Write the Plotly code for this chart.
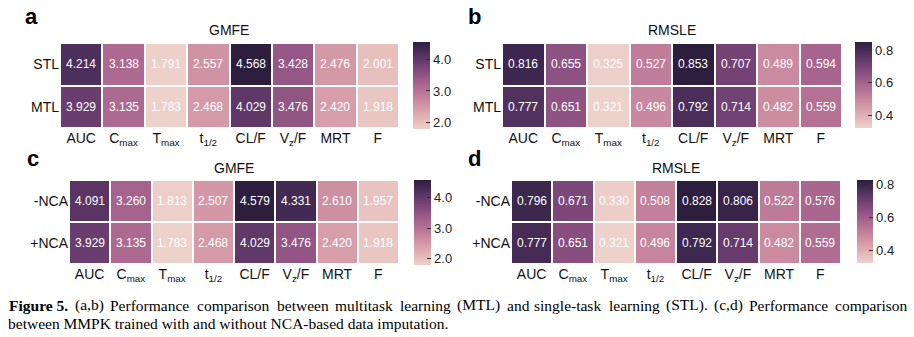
import numpy as np
import plotly.graph_objects as go

# ---- data -------------------------------------------------------------
params = ["AUC", "C<sub>max</sub>", "T<sub>max</sub>", "t<sub>1/2</sub>",
          "CL/F", "V<sub>z</sub>/F", "MRT", "F"]
rows_ab = ["STL", "MTL"]
rows_cd = ["-NCA", "+NCA"]

gmfe_stl = [4.214, 3.138, 1.791, 2.557, 4.568, 3.428, 2.476, 2.001]
gmfe_mtl = [3.929, 3.135, 1.783, 2.468, 4.029, 3.476, 2.420, 1.918]
rmsle_stl = [0.816, 0.655, 0.325, 0.527, 0.853, 0.707, 0.489, 0.594]
rmsle_mtl = [0.777, 0.651, 0.321, 0.496, 0.792, 0.714, 0.482, 0.559]

gmfe_no_nca = [4.091, 3.260, 1.813, 2.507, 4.579, 4.331, 2.610, 1.957]
gmfe_nca = [3.929, 3.135, 1.783, 2.468, 4.029, 3.476, 2.420, 1.918]
rmsle_no_nca = [0.796, 0.671, 0.330, 0.508, 0.828, 0.806, 0.522, 0.576]
rmsle_nca = [0.777, 0.651, 0.321, 0.496, 0.792, 0.714, 0.482, 0.559]

gmfe_ticks = [2.0, 3.0, 4.0]
rmsle_ticks = [0.4, 0.6, 0.8]

caption_words = ["Figure 5.", "(a,b)", "Performance", "comparison", "between",
                 "multitask", "learning", "(MTL)", "and", "single-task",
                 "learning", "(STL).", "(c,d)", "Performance", "comparison"]
caption_line2 = "between MMPK trained with and without NCA-based data imputation."

W, H = 914, 337
SANS = "Liberation Sans, Arial, sans-serif"
SERIF = "Liberation Serif, Times New Roman, serif"


# ---- cubehelix colour map (light pink -> dark purple) -------------------
def cubehelix(x, start=0.0, rot=0.4, gamma=1.0, hue=0.8):
    xg = x ** gamma
    a = hue * xg * (1 - xg) / 2
    phi = 2 * np.pi * (start / 3 + rot * x)
    r = xg + a * (-0.14861 * np.cos(phi) + 1.78277 * np.sin(phi))
    g = xg + a * (-0.29227 * np.cos(phi) - 0.90649 * np.sin(phi))
    b = xg + a * (1.97294 * np.cos(phi))
    return np.clip([r, g, b], 0, 1)


colorscale = []
for s in np.linspace(0, 1, 21):
    rgb = np.round(255 * cubehelix(0.85 - 0.70 * s)).astype(int)
    colorscale.append([float(s), "rgb(%d,%d,%d)" % tuple(rgb)])


def px_x(p):
    return p / W


def px_y(p):
    return 1 - p / H


# panel geometry in pixels: box (x0, x1, y0, y1), colorbar (x, y0, y1, thickness)
panels = [
    dict(z=[gmfe_stl, gmfe_mtl], rows=rows_ab, ticks=gmfe_ticks, title="GMFE",
         box=(60, 399, 43, 128), cb=(413, 42, 129, 17), letter="a", lx=23, ly=17, ty=30),
    dict(z=[rmsle_stl, rmsle_mtl], rows=rows_ab, ticks=rmsle_ticks, title="RMSLE",
         box=(502, 842, 43, 128), cb=(855, 42, 128, 17), letter="b", lx=466, ly=17, ty=30),
    dict(z=[gmfe_no_nca, gmfe_nca], rows=rows_cd, ticks=gmfe_ticks, title="GMFE",
         box=(69, 399, 180, 264), cb=(414, 180, 265, 17), letter="c", lx=25, ly=158, ty=168),
    dict(z=[rmsle_no_nca, rmsle_nca], rows=rows_cd, ticks=rmsle_ticks, title="RMSLE",
         box=(511, 841, 180, 264), cb=(857, 180, 263, 16), letter="d", lx=466, ly=158, ty=168),
]

fig = go.Figure()
annotations = []
shapes = []
layout_axes = {}

for i, p in enumerate(panels, start=1):
    sx = "" if i == 1 else str(i)
    x0, x1, y0, y1 = p["box"]
    cbx, cby0, cby1, cbt = p["cb"]
    zmin = float(np.min(p["z"]))
    zmax = float(np.max(p["z"]))
    fig.add_trace(go.Heatmap(
        z=p["z"], x=params, y=p["rows"],
        xaxis="x" + sx, yaxis="y" + sx,
        colorscale=colorscale, zmin=zmin, zmax=zmax,
        xgap=2, ygap=2,
        texttemplate="%{z:.3f}",
        textfont=dict(color="white", size=12, family=SANS),
        hoverinfo="skip",
        colorbar=dict(
            x=px_x(cbx), xanchor="left", xref="paper",
            y=px_y(cby0), yanchor="top", yref="paper",
            len=cby1 - cby0, lenmode="pixels",
            thickness=cbt, thicknessmode="pixels",
            outlinewidth=0, xpad=0, ypad=0,
            tickvals=p["ticks"], ticktext=["%.1f" % t for t in p["ticks"]],
            ticks="inside", ticklen=4, tickwidth=1.2, tickcolor="#333",
            tickfont=dict(size=13, family=SANS, color="#222"),
        ),
    ))
    layout_axes["xaxis" + sx] = dict(
        domain=[px_x(x0), px_x(x1)], anchor="y" + sx,
        showgrid=False, zeroline=False, showline=False, ticks="",
        tickfont=dict(size=14, family=SANS, color="#111"),
        fixedrange=True,
    )
    layout_axes["yaxis" + sx] = dict(
        domain=[px_y(y1), px_y(y0)], anchor="x" + sx,
        autorange="reversed",
        showgrid=False, zeroline=False, showline=False, ticks="",
        tickfont=dict(size=14, family=SANS, color="#111"),
        fixedrange=True,
    )
    # hidden value axis spanning the colour bar, used for the left-edge tick dashes
    cb_axis = "yaxis%d" % (i + 4)
    layout_axes[cb_axis] = dict(
        domain=[px_y(cby1), px_y(cby0)], range=[zmin, zmax],
        visible=False, anchor="free", position=0, fixedrange=True,
    )
    for t in p["ticks"]:
        shapes.append(dict(
            type="line", xref="paper", yref="y%d" % (i + 4),
            x0=px_x(cbx), x1=px_x(cbx + 4), y0=t, y1=t,
            line=dict(color="#333", width=1.2),
        ))
    annotations.append(dict(
        text=p["title"], x=px_x((x0 + x1) / 2), y=px_y(p["ty"]),
        xref="paper", yref="paper", xanchor="center", yanchor="middle",
        showarrow=False, font=dict(size=14, family=SANS, color="#111"),
    ))
    annotations.append(dict(
        text="<b>%s</b>" % p["letter"], x=px_x(p["lx"]), y=px_y(p["ly"]),
        xref="paper", yref="paper", xanchor="left", yanchor="middle",
        showarrow=False, font=dict(size=22, family=SANS, color="#000"),
    ))

# ---- caption: the first line is justified word by word ------------------
# approximate Times advance widths (1/1000 em), used only to spread the words
TIMES_W = {
    "a": 444, "b": 500, "c": 444, "d": 500, "e": 444, "f": 333, "g": 500,
    "h": 500, "i": 278, "k": 500, "l": 278, "m": 778, "n": 500, "o": 500,
    "p": 500, "r": 333, "s": 389, "t": 278, "u": 500, "w": 722,
    "A": 722, "C": 667, "F": 611, "L": 611, "M": 889, "P": 556, "S": 556,
    "T": 611, "5": 500, "(": 333, ")": 333, ",": 250, ".": 250, "-": 333,
    " ": 250,
}
cap_size = 15.5
em_px = 16.3          # rendered pixels per em for the caption font
line_left, line_right = 7, 910


def word_width(w):
    return sum(TIMES_W.get(ch, 500) for ch in w) / 1000 * em_px


widths = [word_width(w) * (1.04 if k == 0 else 1.0) for k, w in enumerate(caption_words)]
gap = (line_right - line_left - sum(widths)) / (len(caption_words) - 1)
cap_font = dict(size=cap_size, family=SERIF, color="#000")
xpos = line_left
for k, w in enumerate(caption_words):
    last = k == len(caption_words) - 1
    text = "<b>%s</b>" % w if k == 0 else w
    annotations.append(dict(
        text=text, x=px_x(line_right if last else xpos), y=px_y(305),
        xref="paper", yref="paper",
        xanchor="right" if last else "left", yanchor="middle",
        showarrow=False, font=cap_font,
    ))
    xpos += widths[k] + gap

annotations.append(dict(
    text=caption_line2,
    x=px_x(6), y=px_y(323), xref="paper", yref="paper",
    xanchor="left", yanchor="middle", showarrow=False, font=cap_font,
))

fig.update_layout(
    width=W, height=H,
    margin=dict(l=0, r=0, t=0, b=0),
    paper_bgcolor="white", plot_bgcolor="rgba(0,0,0,0)",
    annotations=annotations,
    shapes=shapes,
    showlegend=False,
    **layout_axes,
)

fig.write_html("out.html")
